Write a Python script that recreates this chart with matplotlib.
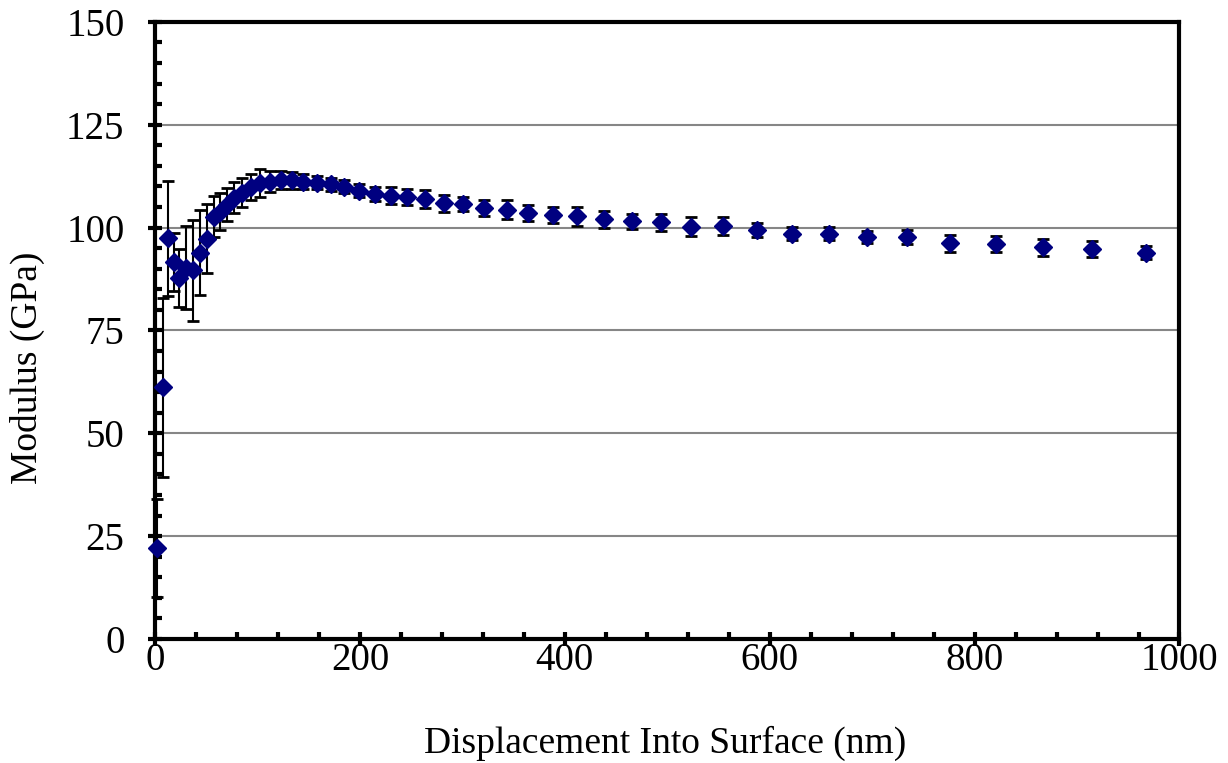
import matplotlib
matplotlib.use("Agg")
import matplotlib.pyplot as plt
from matplotlib.ticker import MultipleLocator

# displacement (nm), modulus (GPa), standard deviation (GPa)
depth = [2, 7.5, 12.5, 18.2, 23.8, 30.2, 37.5, 44.2, 51.2,
         57.8, 63.8, 70.4, 77.6, 85.4, 93.8, 102.8, 112.4, 122.6, 133.4, 144.8,
         157.8, 171.5, 184.4, 199.3, 214.7, 230, 246.2, 263.5, 282, 300.9,
         321.1, 343.2, 364.3, 388.1, 412.1, 438, 465.3, 493.6, 522.9, 554.1,
         587.3, 621.5, 657.5, 695.3, 734.3, 776, 820.9, 866.5, 914.9, 967]
modulus = [22.1, 61.2, 97.4, 91.6, 87.8, 90.3, 89.6, 93.9, 97.3,
           102.6, 103.9, 105.6, 107.3, 108.5, 109.8, 110.8, 111.2, 111.5, 111.5, 111.2,
           110.9, 110.5, 109.9, 109.0, 108.2, 107.8, 107.4, 107.0, 105.9, 105.7,
           104.7, 104.3, 103.5, 103.1, 102.7, 102.0, 101.5, 101.3, 100.2, 100.4,
           99.4, 98.5, 98.5, 97.7, 97.7, 96.2, 96.0, 95.2, 94.8, 93.9]
stdev = [12, 21.8, 14, 7, 7, 10, 12.2, 10.3, 8.4,
         5, 4.5, 4, 3.7, 3.5, 3.2, 3.4, 2.5, 2.2, 2, 1.8,
         1.6, 1.6, 1.6, 1.6, 1.7, 2.1, 1.95, 2.2, 2.0, 1.7,
         1.9, 2.3, 1.9, 2.0, 2.3, 2.1, 1.9, 2.1, 2.3, 2.2,
         1.7, 1.55, 1.55, 1.55, 1.7, 2.1, 1.95, 2.0, 2.0, 1.6]

plt.rcParams['font.family'] = ['Liberation Serif', 'DejaVu Serif']

fig = plt.figure(figsize=(12.28, 7.63), dpi=100)
ax = fig.add_axes([0.1262, 0.1625, 0.8343, 0.8088])

ax.errorbar(depth, modulus, yerr=stdev, fmt='D', color='#000080', ms=9.5,
            ecolor='black', elinewidth=1.5, capsize=4.5, capthick=2,
            zorder=5, clip_on=False)

ax.set_xlim(0, 1000)
ax.set_ylim(0, 150)
ax.xaxis.set_major_locator(MultipleLocator(200))
ax.xaxis.set_minor_locator(MultipleLocator(40))
ax.yaxis.set_major_locator(MultipleLocator(25))
ax.yaxis.set_minor_locator(MultipleLocator(5))

ax.grid(axis='y', which='major', color='#868686', linewidth=1.5, zorder=0)
ax.set_axisbelow(True)

for s in ax.spines.values():
    s.set_linewidth(3)

ax.tick_params(which='major', direction='inout', length=10, width=3,
               labelsize=28)
ax.tick_params(axis='y', which='major', pad=17)
ax.tick_params(axis='x', which='major', pad=-3)
ax.tick_params(which='minor', direction='in', length=5, width=3)

ax.set_xlabel('Displacement Into Surface (nm)', fontsize=27)
ax.set_ylabel('Modulus (GPa)', fontsize=27)
ax.xaxis.set_label_coords(0.498, -0.14)
ax.yaxis.set_label_coords(-0.107, 0.44)

fig.savefig('out.png', dpi=100)
